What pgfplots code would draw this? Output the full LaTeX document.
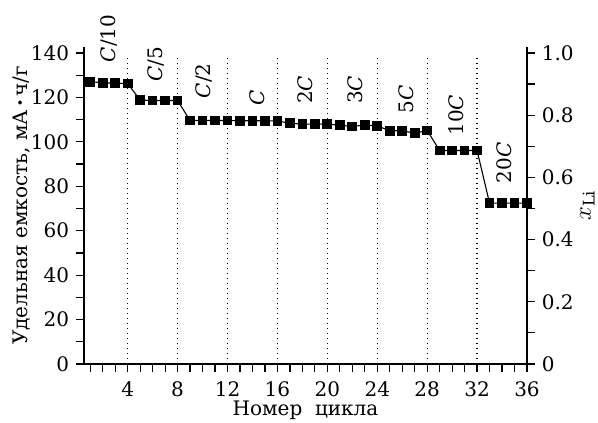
\documentclass[border=0pt]{standalone}
\usepackage{fontspec}
\setmainfont{DejaVu Serif}
\usepackage{pgfplots}
\pgfplotsset{compat=1.18}

% specific capacity per cycle, mA h/g
\pgfplotstableread{
cyc cap
1 127.1
2 126.6
3 126.4
4 126.3
5 118.8
6 118.6
7 118.6
8 118.6
9 109.6
10 109.6
11 109.6
12 109.6
13 109.5
14 109.5
15 109.5
16 109.4
17 108.4
18 108.0
19 108.0
20 108.0
21 107.5
22 106.9
23 107.6
24 107.2
25 105.0
26 105.0
27 103.9
28 105.1
29 96.1
30 96.1
31 96.1
32 96.1
33 72.4
34 72.4
35 72.4
36 72.4
}\captable

\newcommand\lblfont{\fontsize{20}{24}\selectfont}

\begin{document}
\lblfont
\begin{tikzpicture}
\pgfplotsset{
  every axis/.append style={
    scale only axis, width=443pt, height=317pt,
    xmin=0.5, xmax=36,
    axis line style={line width=1.2pt},
    tick style={line width=1.2pt, black},
    major tick length=8pt, minor tick length=8pt,
    tick align=outside,
    /pgf/number format/assume math mode=true,
    ticklabel style={font=\lblfont},
    label style={font=\lblfont},
  }
}
\begin{axis}[
  name=main,
  axis y line*=left, axis x line*=bottom,
  ymin=0, ymax=142.7,
  xtick={4,8,...,36}, minor xtick={1,...,35},
  ytick={0,20,...,140}, minor ytick={10,30,...,130},
  xticklabel style={yshift=-3pt},
  xlabel={Номер\ \ цикла},
  ylabel={Удельная емкость, мА\,\textbf{·}\,ч/г},
  xlabel style={yshift=10pt},
  ylabel style={yshift=-13pt},
  clip=false,
]
\pgfplotsinvokeforeach{4,8,...,32}{
  \draw[line width=1.3pt, dash pattern=on 1.3pt off 3.7pt] (axis cs:#1,0) -- (axis cs:#1,138.5);
}
\addplot[black, line width=1.1pt, mark=square*, mark size=4.3pt,
  mark options={solid}] table[x=cyc, y=cap] {\captable};
\begin{scope}[every node/.style={rotate=90, font=\lblfont}]
\node at (axis cs:2.5,146.5) {\textit{C}/10};
\node at (axis cs:6.3,135) {\textit{C}/5};
\node at (axis cs:10.1,127.5) {\textit{C}/2};
\node at (axis cs:14.4,120) {\textit{C}};
\node at (axis cs:18.2,123.4) {2\textit{C}};
\node at (axis cs:22.2,123.4) {3\textit{C}};
\node at (axis cs:26.3,119) {5\textit{C}};
\node at (axis cs:30.3,112) {10\textit{C}};
\node at (axis cs:34.2,90.5) {20\textit{C}};
\end{scope}
\end{axis}
\begin{axis}[
  axis y line*=right, axis x line=none,
  ymin=0, ymax=1.01929,
  ytick={0,0.2,0.4,0.6,0.8,1.0},
  yticklabels={0,0.2,0.4,0.6,0.8,1.0},
  minor ytick={0.1,0.3,0.5,0.7,0.9},
  ylabel={$x_{\mathrm{Li}}$},
  ylabel style={font=\fontsize{23}{27}\selectfont, yshift=7pt},
]
\end{axis}
% page frame around the plot
\pgfresetboundingbox
\path ([shift={(-84pt,-59pt)}]main.south west) rectangle ([shift={(514pt,364pt)}]main.south west);
\end{tikzpicture}
\end{document}
